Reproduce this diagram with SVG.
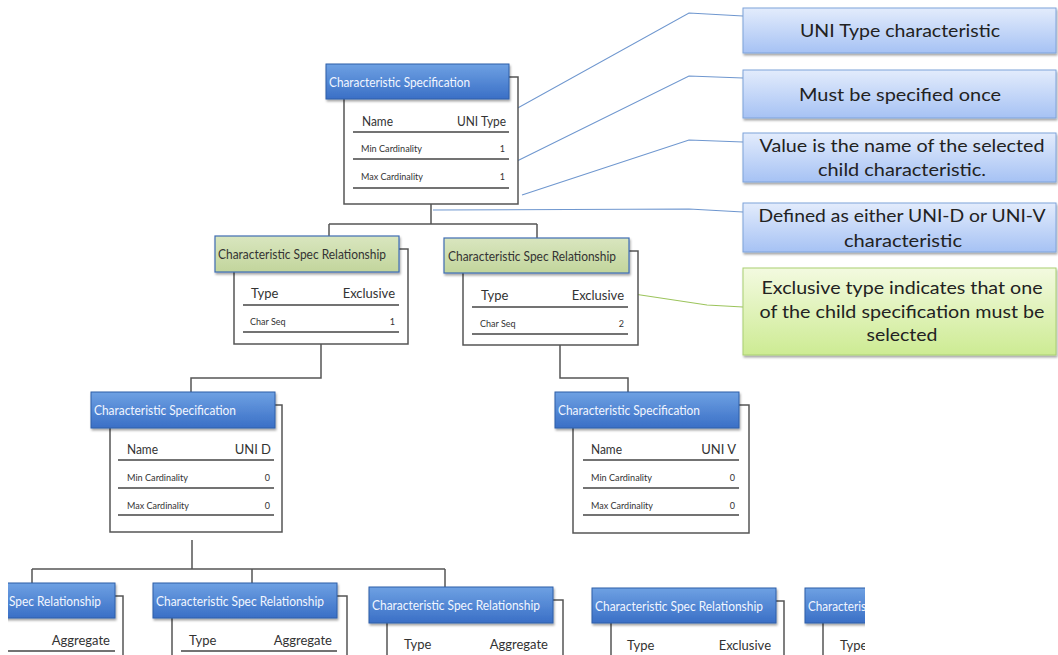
<svg xmlns="http://www.w3.org/2000/svg" width="1058" height="655" viewBox="0 0 1058 655">
  <defs>
    <linearGradient id="hdrBlue" x1="0" y1="0" x2="0" y2="1">
      <stop offset="0" stop-color="#6ea1e3"/>
      <stop offset="1" stop-color="#3a6fc6"/>
    </linearGradient>
    <linearGradient id="hdrGreen" x1="0" y1="0" x2="0" y2="1">
      <stop offset="0" stop-color="#d9e6bf"/>
      <stop offset="1" stop-color="#c2d59c"/>
    </linearGradient>
    <linearGradient id="noteBlue" x1="0" y1="0" x2="0" y2="1">
      <stop offset="0" stop-color="#e3ecfc"/>
      <stop offset="1" stop-color="#a6c2f4"/>
    </linearGradient>
    <linearGradient id="noteGreen" x1="0" y1="0" x2="0" y2="1">
      <stop offset="0" stop-color="#f3fae0"/>
      <stop offset="1" stop-color="#cdeb93"/>
    </linearGradient>
    <filter id="shadow" x="-10%" y="-20%" width="120%" height="150%">
      <feDropShadow dx="1" dy="2" stdDeviation="1.2" flood-color="#000" flood-opacity="0.35"/>
    </filter>
    <clipPath id="rowClip">
      <rect x="8" y="540" width="857" height="115"/>
    </clipPath>
  </defs>
  <style>
    text { font-family: Lato, "Open Sans", "Liberation Sans", sans-serif; }
    .body { fill: #fff; stroke: #555; stroke-width: 1.5; }
    .hdr { fill: url(#hdrBlue); stroke: #2f5ea8; stroke-width: 1; filter: url(#shadow); }
    .hdrG { fill: url(#hdrGreen); stroke: #3f6db3; stroke-width: 1.2; filter: url(#shadow); }
    .htxt { fill: #f2f6ff; font-size: 13px; }
    .gtxt { fill: #333; font-size: 13px; }
    .big { fill: #333; font-size: 13px; }
    .small { fill: #333; font-size: 9px; }
    .end { text-anchor: end; }
    .rule { stroke: #444; stroke-width: 1.5; }
    .wire { fill: none; stroke: #555; stroke-width: 1.5; }
    .lead { fill: none; stroke: #6f97cf; stroke-width: 1.1; }
    .leadG { fill: none; stroke: #9cc45c; stroke-width: 1.1; }
    .note { fill: url(#noteBlue); stroke: #7fa3da; stroke-width: 1; filter: url(#shadow); }
    .noteG { fill: url(#noteGreen); stroke: #a9cf72; stroke-width: 1; filter: url(#shadow); }
    .ntxt { fill: #222; font-size: 17.5px; text-anchor: middle; }
  </style>

  <!-- tree connectors and callout leaders -->
  <g id="connectors">
    <path class="wire" d="M431 204 V224 M329 224 H537 M329 224 V236 M537 224 V238"/>
    <path class="wire" d="M321 344 V378 H191 V392"/>
    <path class="wire" d="M560 345 V378 H628 V392"/>
    <g clip-path="url(#rowClip)">
      <path class="wire" d="M192 532 V569 M32 569 H445 M32 569 V583 M252 569 V583 M445 569 V587"/>
    </g>
    <path class="lead" d="M505 115 L689 13 L743 16"/>
    <path class="lead" d="M513 163 L689 76 L743 78"/>
    <path class="lead" d="M522 195 L689 140 L743 142"/>
    <path class="lead" d="M433 210 L689 209 L743 212"/>
    <path class="leadG" d="M634 294 L707 305 L743 307"/>
  </g>

  <!-- root characteristic: UNI Type -->
  <g id="spec-uni-type">
    <rect class="body" x="344" y="77" width="174" height="127"/>
    <rect class="hdr" x="326" y="64" width="183" height="35"/>
    <text class="htxt" x="329" y="87" textLength="141" lengthAdjust="spacingAndGlyphs">Characteristic Specification</text>
    <text class="big" x="362" y="126" textLength="31" lengthAdjust="spacingAndGlyphs">Name</text>
    <text class="big end" x="506" y="126" textLength="49" lengthAdjust="spacingAndGlyphs">UNI Type</text>
    <line class="rule" x1="353" y1="132" x2="509" y2="132"/>
    <text class="small" x="361" y="152" textLength="61" lengthAdjust="spacingAndGlyphs">Min Cardinality</text>
    <text class="small end" x="505" y="152">1</text>
    <line class="rule" x1="353" y1="159" x2="509" y2="159"/>
    <text class="small" x="361" y="180" textLength="62" lengthAdjust="spacingAndGlyphs">Max Cardinality</text>
    <text class="small end" x="505" y="180">1</text>
    <line class="rule" x1="353" y1="188" x2="509" y2="188"/>
  </g>

  <!-- relationship to UNI D -->
  <g id="rel-uni-d">
    <rect class="body" x="234" y="249" width="174" height="95"/>
    <rect class="hdrG" x="215" y="236" width="184" height="36"/>
    <text class="gtxt" x="218" y="259" textLength="168" lengthAdjust="spacingAndGlyphs">Characteristic Spec Relationship</text>
    <text class="big" x="251" y="298">Type</text>
    <text class="big end" x="395" y="298">Exclusive</text>
    <line class="rule" x1="243" y1="305" x2="399" y2="305"/>
    <text class="small" x="250" y="325">Char Seq</text>
    <text class="small end" x="395" y="325">1</text>
    <line class="rule" x1="243" y1="332" x2="399" y2="332"/>
  </g>

  <!-- relationship to UNI V -->
  <g id="rel-uni-v">
    <rect class="body" x="463" y="251" width="175" height="94"/>
    <rect class="hdrG" x="444" y="238" width="185" height="35"/>
    <text class="gtxt" x="448" y="261" textLength="168" lengthAdjust="spacingAndGlyphs">Characteristic Spec Relationship</text>
    <text class="big" x="481" y="300">Type</text>
    <text class="big end" x="624" y="300">Exclusive</text>
    <line class="rule" x1="472" y1="307" x2="628" y2="307"/>
    <text class="small" x="480" y="327">Char Seq</text>
    <text class="small end" x="624" y="327">2</text>
    <line class="rule" x1="472" y1="334" x2="628" y2="334"/>
  </g>

  <!-- UNI D characteristic -->
  <g id="spec-uni-d">
    <rect class="body" x="110" y="405" width="172" height="127"/>
    <rect class="hdr" x="91" y="392" width="184" height="36"/>
    <text class="htxt" x="94" y="415" textLength="142" lengthAdjust="spacingAndGlyphs">Characteristic Specification</text>
    <text class="big" x="127" y="454" textLength="31" lengthAdjust="spacingAndGlyphs">Name</text>
    <text class="big end" x="271" y="454">UNI D</text>
    <line class="rule" x1="118" y1="460" x2="274" y2="460"/>
    <text class="small" x="127" y="481" textLength="61" lengthAdjust="spacingAndGlyphs">Min Cardinality</text>
    <text class="small end" x="270" y="481">0</text>
    <line class="rule" x1="118" y1="488" x2="274" y2="488"/>
    <text class="small" x="127" y="509" textLength="62" lengthAdjust="spacingAndGlyphs">Max Cardinality</text>
    <text class="small end" x="270" y="509">0</text>
    <line class="rule" x1="118" y1="515" x2="274" y2="515"/>
  </g>

  <!-- UNI V characteristic -->
  <g id="spec-uni-v">
    <rect class="body" x="573" y="405" width="176" height="128"/>
    <rect class="hdr" x="555" y="392" width="184" height="36"/>
    <text class="htxt" x="558" y="415" textLength="142" lengthAdjust="spacingAndGlyphs">Characteristic Specification</text>
    <text class="big" x="591" y="454" textLength="31" lengthAdjust="spacingAndGlyphs">Name</text>
    <text class="big end" x="736" y="454">UNI V</text>
    <line class="rule" x1="583" y1="460" x2="739" y2="460"/>
    <text class="small" x="591" y="481" textLength="61" lengthAdjust="spacingAndGlyphs">Min Cardinality</text>
    <text class="small end" x="735" y="481">0</text>
    <line class="rule" x1="583" y1="488" x2="739" y2="488"/>
    <text class="small" x="591" y="509" textLength="62" lengthAdjust="spacingAndGlyphs">Max Cardinality</text>
    <text class="small end" x="735" y="509">0</text>
    <line class="rule" x1="583" y1="515" x2="739" y2="515"/>
  </g>

  <!-- lower row of relationships (cut at the frame edges) -->
  <g clip-path="url(#rowClip)">
    <g id="rel-row-1">
      <rect class="body" x="-60" y="596" width="183" height="100"/>
      <rect class="hdr" x="-70" y="583" width="185" height="35"/>
      <text class="htxt" x="9" y="606" textLength="92" lengthAdjust="spacingAndGlyphs">Spec Relationship</text>
      <text class="big end" x="110" y="645">Aggregate</text>
      <line class="rule" x1="0" y1="651" x2="115" y2="651"/>
    </g>
    <g id="rel-row-2">
      <rect class="body" x="172" y="596" width="175" height="100"/>
      <rect class="hdr" x="153" y="583" width="184" height="35"/>
      <text class="htxt" x="156" y="606" textLength="168" lengthAdjust="spacingAndGlyphs">Characteristic Spec Relationship</text>
      <text class="big" x="189" y="645">Type</text>
      <text class="big end" x="332" y="645">Aggregate</text>
      <line class="rule" x1="181" y1="651" x2="337" y2="651"/>
    </g>
    <g id="rel-row-3">
      <rect class="body" x="387" y="600" width="176" height="100"/>
      <rect class="hdr" x="369" y="587" width="184" height="36"/>
      <text class="htxt" x="372" y="610" textLength="168" lengthAdjust="spacingAndGlyphs">Characteristic Spec Relationship</text>
      <text class="big" x="404" y="649">Type</text>
      <text class="big end" x="548" y="649">Aggregate</text>
    </g>
    <g id="rel-row-4">
      <rect class="body" x="611" y="601" width="173" height="100"/>
      <rect class="hdr" x="592" y="588" width="184" height="35"/>
      <text class="htxt" x="595" y="611" textLength="168" lengthAdjust="spacingAndGlyphs">Characteristic Spec Relationship</text>
      <text class="big" x="627" y="650">Type</text>
      <text class="big end" x="771" y="650">Exclusive</text>
    </g>
    <g id="rel-row-5">
      <rect class="body" x="823" y="601" width="175" height="100"/>
      <rect class="hdr" x="805" y="588" width="184" height="35"/>
      <text class="htxt" x="808" y="611" textLength="58" lengthAdjust="spacingAndGlyphs">Characteris</text>
      <text class="big" x="840" y="650">Type</text>
    </g>
  </g>

  <!-- explanatory notes -->
  <g id="note-uni-type">
    <rect class="note" x="743" y="8" width="313" height="45"/>
    <text class="ntxt" x="900" y="37" textLength="200" lengthAdjust="spacingAndGlyphs">UNI Type characteristic</text>
  </g>
  <g id="note-once">
    <rect class="note" x="743" y="70" width="313" height="48"/>
    <text class="ntxt" x="900" y="101" textLength="202" lengthAdjust="spacingAndGlyphs">Must be specified once</text>
  </g>
  <g id="note-value">
    <rect class="note" x="743" y="133" width="313" height="49"/>
    <text class="ntxt" x="902" y="152" textLength="285" lengthAdjust="spacingAndGlyphs">Value is the name of the selected</text>
    <text class="ntxt" x="902" y="176" textLength="168" lengthAdjust="spacingAndGlyphs">child characteristic.</text>
  </g>
  <g id="note-defined">
    <rect class="note" x="743" y="203" width="313" height="49"/>
    <text class="ntxt" x="902" y="222" textLength="287" lengthAdjust="spacingAndGlyphs">Defined as either UNI-D or UNI-V</text>
    <text class="ntxt" x="903" y="247" textLength="118" lengthAdjust="spacingAndGlyphs">characteristic</text>
  </g>
  <g id="note-exclusive">
    <rect class="noteG" x="743" y="268" width="313" height="87"/>
    <text class="ntxt" x="902" y="294" textLength="281" lengthAdjust="spacingAndGlyphs">Exclusive type indicates that one</text>
    <text class="ntxt" x="902" y="318" textLength="285" lengthAdjust="spacingAndGlyphs">of the child specification must be</text>
    <text class="ntxt" x="902" y="341" textLength="71" lengthAdjust="spacingAndGlyphs">selected</text>
  </g>
</svg>
